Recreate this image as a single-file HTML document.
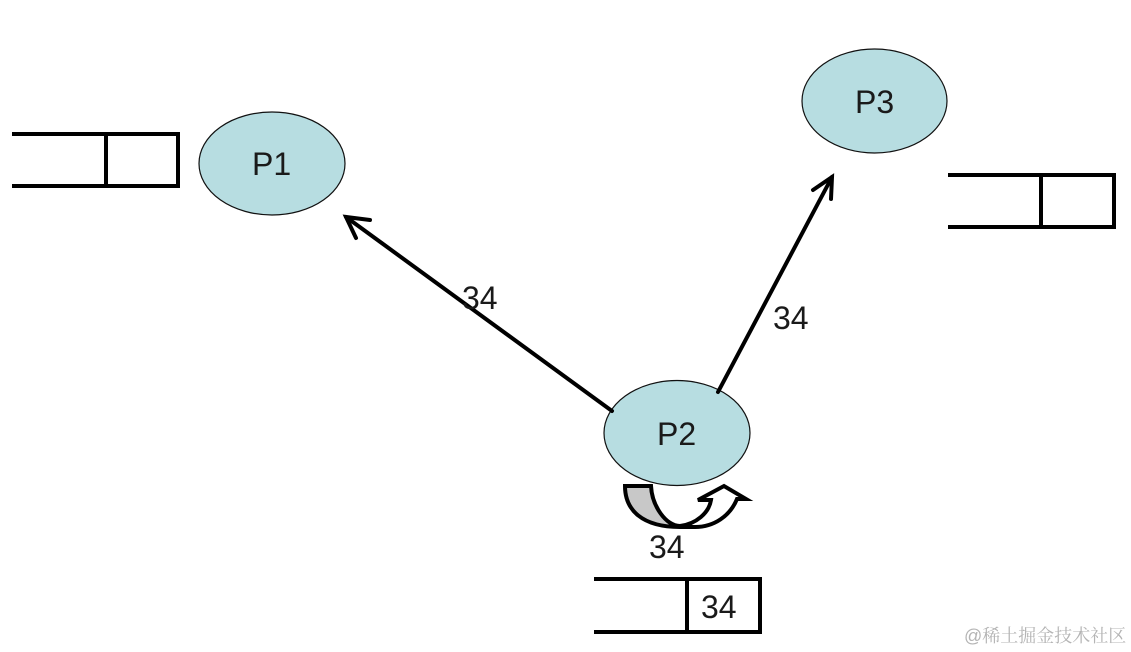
<!DOCTYPE html>
<html>
<head>
<meta charset="utf-8">
<style>
html,body{margin:0;padding:0;background:#fff;width:1131px;height:652px;overflow:hidden}
svg{display:block}
text{font-family:"Liberation Sans",sans-serif;fill:#1a1a1a}
</style>
</head>
<body>
<svg width="1131" height="652" viewBox="0 0 1131 652" xmlns="http://www.w3.org/2000/svg">
<rect width="1131" height="652" fill="#fff"/>

<!-- Queues -->
<g fill="none" stroke="#000" stroke-width="4">
  <path d="M12 134H178V186H12M106 134V186"/>
  <path d="M948 175H1114V227H948M1041 175V227"/>
  <path d="M594 579H760V632H594M687 579V632"/>
</g>

<!-- Ellipses -->
<g fill="#b7dde1" stroke="#111" stroke-width="1.2">
  <ellipse cx="272" cy="163.5" rx="73" ry="51.5"/>
  <ellipse cx="874.5" cy="101" rx="72.5" ry="52"/>
  <ellipse cx="677" cy="433" rx="73" ry="52.5"/>
</g>

<!-- Arrows -->
<g fill="none" stroke="#000" stroke-width="4" stroke-linecap="round" stroke-linejoin="miter">
  <path d="M612 411L346 217"/>
  <path d="M370 220L346 217L356 238"/>
  <path d="M718 392L832 177"/>
  <path d="M813 190L832 177L831 199"/>
</g>

<!-- U-turn arrow -->
<path d="M625 486H651C652 506 666 526 680 526C642 526 625 510 625 486Z" fill="#c8c8c8"/>
<path d="M625 486H651C652 506 666 526 680 526C696 524 709 513 711 500H698L724 486L746 499H737C730 516 714 527 695 527H680C642 527 625 510 625 486Z" fill="none" stroke="#000" stroke-width="4" stroke-linejoin="miter"/>

<!-- Labels -->
<g font-size="32">
  <text x="252" y="175">P1</text>
  <text x="855" y="113">P3</text>
  <text x="657" y="445">P2</text>
</g>
<g font-size="32">
  <text x="462" y="309">34</text>
  <text x="773" y="329">34</text>
  <text x="649" y="558">34</text>
  <text x="701" y="618">34</text>
</g>

<!-- Watermark -->
<text x="964" y="642" font-size="18" style="font-family:'Liberation Sans','Noto Serif CJK SC',serif;fill:#b4b4b4">@稀土掘金技术社区</text>
</svg>
</body>
</html>
